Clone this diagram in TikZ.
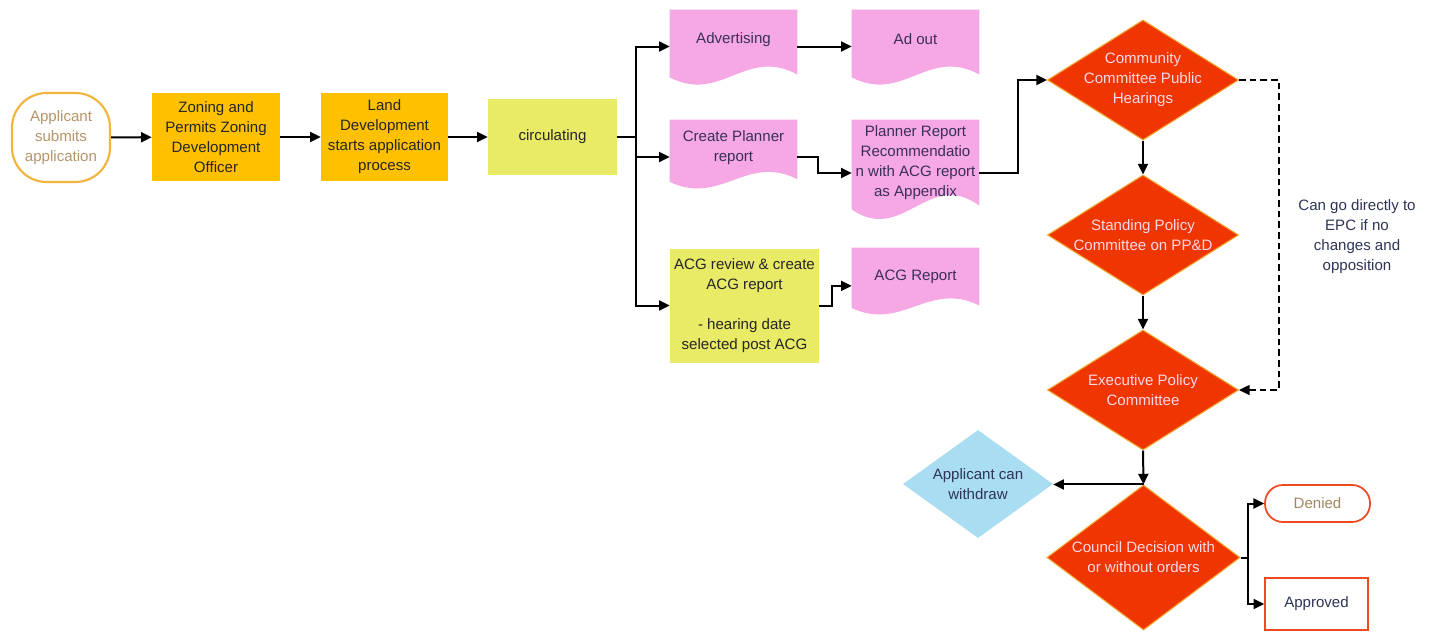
\documentclass[tikz,border=0pt]{standalone}
\usepackage{fontspec}
\setmainfont{Liberation Sans}
\usetikzlibrary{arrows.meta,shapes.geometric,calc}
\definecolor{orangebox}{HTML}{FFC000}
\definecolor{yellowbox}{HTML}{E9EA66}
\definecolor{docpink}{HTML}{F5A8E3}
\definecolor{diared}{HTML}{EF3500}
\definecolor{diaedge}{HTML}{F2A22A}
\definecolor{bluedia}{HTML}{A8DDF2}
\definecolor{gold}{HTML}{F2B43C}
\definecolor{redline}{HTML}{F04A25}
\definecolor{tan}{HTML}{B5956A}
\definecolor{navy}{HTML}{2E3555}
\definecolor{docink}{HTML}{3B2E5A}
\definecolor{paleink}{HTML}{FFD8EA}
\newcommand\docfill[1]{\fill[docpink] let \p1=(#1.north west), \p2=(#1.south east) in
  (\x1,\y1) -- (\x2,\y1) -- (\x2,{\y1+0.88*(\y2-\y1)})
  .. controls ({\x1+0.6*(\x2-\x1)},{\y1+0.5*(\y2-\y1)}) and ({\x1+0.4*(\x2-\x1)},{\y1+1.28*(\y2-\y1)})
  .. (\x1,{\y1+0.92*(\y2-\y1)}) -- cycle;}
\tikzset{
  txt/.style={font=\fontsize{11.3}{15}\selectfont, align=center, inner sep=0pt},
  procbox/.style={txt, rectangle, fill=orangebox, text=black!85},
  ybox/.style={txt, rectangle, fill=yellowbox, text=black!85},
  docbox/.style={rectangle, inner sep=0pt, minimum width=95.25pt},
  doctext/.style={txt, text=docink},
  dia/.style={diamond, fill=diared, draw=diaedge, line width=0.8pt, inner sep=0pt, minimum width=143.25pt, minimum height=90pt},
  diatext/.style={txt, text=paleink},
  arr/.style={draw=black, line width=1.5pt, -{Triangle[length=8pt,width=7.5pt]}},
  plain/.style={draw=black, line width=1.5pt},
}
\begin{document}
\begin{tikzpicture}[x=0.75pt,y=-0.75pt]
\useasboundingbox[fill=white] (0,0) rectangle (1432,633);
% left chain
\node[txt, draw=gold, line width=1.6pt, fill=white, text=tan, rounded corners=26pt,
  minimum width=73.5pt, minimum height=66.75pt] (app) at (61,137.5) {Applicant\\submits\\application};
\node[procbox, minimum width=96pt, minimum height=66pt] (zon) at (216,137) {Zoning and\\Permits Zoning\\Development\\Officer};
\node[procbox, minimum width=95.25pt, minimum height=66pt] (land) at (384.5,137) {Land\\Development\\starts application\\process};
\node[ybox, minimum width=96.75pt, minimum height=57pt] (circ) at (552.5,137) {circulating};
% documents
\node[docbox, minimum height=54.75pt] (adv) at (733.5,46.5) {};
\docfill{adv}
\node[doctext] (advt) at (733.5,40) {Advertising};
\node[docbox, minimum height=54.75pt] (adout) at (915.5,46.5) {};
\docfill{adout}
\node[doctext] (adoutt) at (915.5,39) {Ad out};
\node[docbox, minimum height=50.25pt] (cpl) at (733.5,153.5) {};
\docfill{cpl}
\node[doctext] (cplt) at (733.5,148) {Create Planner\\report};
\node[docbox, minimum height=72.75pt] (prr) at (915.5,168.5) {};
\docfill{prr}
\node[doctext] (prrt) at (915.5,163) {Planner Report\\Recommendatio\\n with ACG report\\as Appendix};
\node[docbox, minimum height=48.75pt] (acgr) at (915.5,280.5) {};
\docfill{acgr}
\node[doctext] (acgrt) at (915.5,277) {ACG Report};
\node[ybox, minimum width=111.75pt, minimum height=85.5pt] (acgrev) at (744.5,305.5) {ACG review \& create\\ACG report\\[15pt]- hearing date\\selected post ACG};
% diamonds
\node[dia] (cc) at (1143,80) {};
\node[diatext] (cct) at (1143,80) {Community\\Committee Public\\Hearings};
\node[dia] (spc) at (1143,235) {};
\node[diatext] (spct) at (1143,235) {Standing Policy\\Committee on PP\&D};
\node[dia] (epc) at (1143,390) {};
\node[diatext] (epct) at (1143,390) {Executive Policy\\Committee};
\node[dia, minimum width=144.75pt, minimum height=108.75pt] (cd) at (1143.5,557.5) {};
\node[diatext] (cdt) at (1143.5,557.5) {Council Decision with\\or without orders};
\node[diamond, fill=bluedia, inner sep=0pt, minimum width=112.5pt, minimum height=81pt] (wd) at (978,484) {};
\node[diatext, text=navy] (wdt) at (978,484) {Applicant can\\withdraw};
% end states
\node[txt, draw=redline, line width=1.3pt, fill=white, text=tan!90!black, rounded corners=13.5pt,
  minimum width=78.75pt, minimum height=27.75pt] (den) at (1317.5,503.5) {Denied};
\node[txt, draw=redline, line width=1.1pt, fill=white, text=navy,
  minimum width=77.25pt, minimum height=39pt] (apr) at (1316.5,604) {Approved};
\node[txt, text=navy] (note) at (1357,237) {Can go directly to\\EPC if no\\changes and\\opposition};
% connectors
\draw[arr] (app) -- (zon);
\draw[arr] (zon) -- (land);
\draw[arr] (land) -- (circ);
\coordinate (jc) at (636,137);
\draw[plain] (circ.east) -- (jc);
\draw[arr] (jc) |- (adv.west);
\draw[arr] (jc) |- ([yshift=-2.6pt]cpl.west);
\draw[arr] (jc) |- (acgrev.west);
\draw[arr] (adv.east) -- (adout.west);
\draw[arr] ([yshift=-2.6pt]cpl.east) -- ++(21,0) |- ([yshift=-3.4pt]prr.west);
\draw[arr] (acgrev.east) -- ++(13,0) |- ([yshift=-4pt]acgr.west);
\draw[arr] ([yshift=-3.4pt]prr.east) -- ++(39,0) |- (cc.west);
\draw[arr] (cc.south) -- (spc.north);
\draw[arr] (spc.south) -- (epc.north);
\draw[arr, dashed, dash pattern=on 5pt off 3pt, line width=1.2pt] (cc.east) -- ++(40,0) |- (epc.east);
\draw[arr] (epc.south) -- (cd.north);
\draw[arr] (cd.north) -- (cd.north -| wd.east);
\coordinate (jd) at (1248,557.5);
\draw[plain] (cd.east) -- (jd);
\draw[arr] (jd) |- (den.west);
\draw[arr] (jd) |- (apr.west);
\end{tikzpicture}
\end{document}
